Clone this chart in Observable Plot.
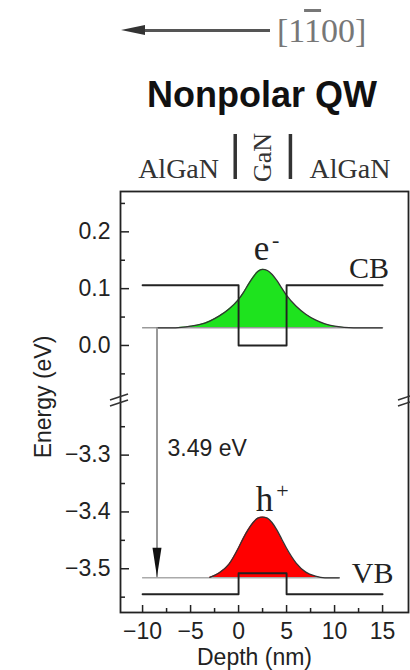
<!DOCTYPE html>
<html><head><meta charset="utf-8">
<script src="https://cdn.jsdelivr.net/npm/d3@7"></script>
<script src="https://cdn.jsdelivr.net/npm/@observablehq/plot@0.6"></script>
<style>
body{margin:0;background:#fff;width:410px;height:670px;overflow:hidden;}
#header{position:relative;width:410px;height:130px;}
#arrline{position:absolute;left:138px;top:28.5px;width:132px;height:3px;background:#555;}
#arrhead{position:absolute;left:121px;top:25px;width:0;height:0;border-right:24px solid #333;border-top:5px solid transparent;border-bottom:5px solid transparent;}
#dir{position:absolute;left:277px;top:13.5px;font:34px/34px 'Liberation Serif','Times New Roman',serif;color:#777;white-space:nowrap;}
#dir .ov{text-decoration:overline;text-decoration-thickness:3px;}
#title{position:absolute;left:262px;top:76.5px;transform:translateX(-50%);font:bold 36px/36px 'Liberation Sans',Arial,sans-serif;color:#111;white-space:nowrap;}
</style></head><body>
<div id="header">
  <div id="arrline"></div><div id="arrhead"></div>
  <div id="dir">[1<span class="ov">1</span>00]</div>
  <div id="title">Nonpolar QW</div>
</div>
<div id="chart"></div>
<script>
// ---- data ----
const depthTicks = [-10, -5, 0, 5, 10, 15];
const depthMinor = [-7.5, -2.5, 2.5, 7.5, 12.5];
const energyTicks = [0.2, 0.1, 0.0, -3.3, -3.4, -3.5];
const energyMinor = [0.25, 0.15, 0.05, -0.05, -3.25, -3.35, -3.45, -3.55];
const lowerRange = [-3.577, -3.204];
const upperRange = [-0.097, 0.271];

const layerNames = ["AlGaN", "GaN", "AlGaN"];
const layerCenters = [-6.25, 2.5, 11.6];
const layerBounds = [-0.35, 5.4];

// conduction band edge (AlGaN / GaN / AlGaN)
const cbX = [-10, 0, 0, 5, 5, 15];
const cbE = [0.106, 0.106, 0, 0, 0.106, 0.106];
// valence band edge
const vbX = [-10, 0, 0, 5, 5, 15];
const vbE = [-3.545, -3.545, -3.508, -3.508, -3.545, -3.545];

// confined levels
const elecLevel = 0.031;
const holeLevel = -3.516;
const elecLevelSpan = [-10, 15];
const holeLevelSpan = [-10, 10.5];

// electron probability density (offset to level)
const elecX = [-8.5, -7, -6, -5, -4, -3, -2, -1, 0, 0.5, 1, 1.5, 2, 2.5, 3, 3.5, 4, 4.5, 5, 6, 7, 8, 9, 10, 12, 15];
const elecE = [0.031, 0.031, 0.032, 0.034, 0.037, 0.043, 0.052, 0.064, 0.081, 0.093, 0.107, 0.120, 0.130, 0.134, 0.132, 0.125, 0.114, 0.101, 0.088, 0.069, 0.055, 0.045, 0.038, 0.034, 0.031, 0.031];
// hole probability density
const holeX = [-3, -2, -1, 0, 0.5, 1, 1.5, 2, 2.5, 3, 3.5, 4, 4.5, 5, 6, 7, 8, 9, 10.5];
const holeE = [-3.515, -3.507, -3.492, -3.463, -3.446, -3.431, -3.419, -3.411, -3.409, -3.411, -3.419, -3.432, -3.448, -3.464, -3.490, -3.506, -3.513, -3.516, -3.516];

const transitionX = -8.5;
const transitionLabel = "3.49 eV";

// ---- chart ----
const W = 410, H = 540, mL = 120, mR = 2, mT = 61, mB = 58;
const frameW = W - mL - mR, frameH = H - mT - mB;
const serif = "'Liberation Serif','Times New Roman',serif";
const sans = "'Liberation Sans',Arial,sans-serif";
const ink = "#222";

// broken axis: lower panel then upper panel stacked continuously
const lowerSpan = lowerRange[1] - lowerRange[0];
const upperSpan = upperRange[1] - upperRange[0];
const brokenAxis = E => E < (lowerRange[1] + upperRange[0]) / 2
  ? E - lowerRange[0]
  : lowerSpan + (E - upperRange[0]);

const zip = (xs, ys) => xs.map((x, i) => ({x, y: ys[i]}));
const cb = zip(cbX, cbE), vb = zip(vbX, vbE);
const elec = zip(elecX, elecE), hole = zip(holeX, holeE);
const fmtE = d => (d < 0 ? "\u2212" : "") + Math.abs(d).toFixed(1);
const fmtX = d => (d < 0 ? "\u2212" : "") + Math.abs(d);

const arrowHead = {draw(ctx) { ctx.moveTo(-4.5, -30); ctx.lineTo(4.5, -30); ctx.lineTo(0, -1); ctx.closePath(); }};

const breaks = (index, scales, values, dims) => {
  const g = d3.create("svg:g").attr("stroke", "#333").attr("stroke-width", 1.5).attr("fill", "none");
  const fh = dims.height - dims.marginTop - dims.marginBottom;
  const yb = dims.height - dims.marginBottom - fh * lowerSpan / (lowerSpan + upperSpan);
  for (const xb of [dims.marginLeft, dims.width - dims.marginRight]) {
    for (const off of [-3, 3]) {
      g.append("path").attr("d", `M${xb - 10},${yb + off + 3}L${xb + 8},${yb + off - 3}`);
    }
  }
  return g.node();
};

const plot = Plot.plot({
  width: W, height: H,
  marginLeft: mL, marginRight: mR, marginTop: mT, marginBottom: mB,
  style: {fontFamily: sans, fontSize: "22px", background: "#fff", color: "#111", overflow: "visible"},
  x: {domain: [-12.3, 17.7]},
  y: {transform: brokenAxis, domain: [0, lowerSpan + upperSpan]},
  marks: [
    Plot.areaY(elec, {x: "x", y1: elecLevel, y2: "y", fill: "#1ee31e", curve: "monotone-x"}),
    Plot.areaY(hole, {x: "x", y1: holeLevel, y2: "y", fill: "#ff0000", curve: "monotone-x"}),
    Plot.ruleY([elecLevel], {x1: elecLevelSpan[0], x2: elecLevelSpan[1], stroke: "#999", strokeWidth: 1.5}),
    Plot.ruleY([holeLevel], {x1: holeLevelSpan[0], x2: holeLevelSpan[1], stroke: "#aaa", strokeWidth: 1.5}),
    Plot.line(elec, {x: "x", y: "y", curve: "monotone-x", stroke: "#333", strokeWidth: 1.3}),
    Plot.line(hole, {x: "x", y: "y", curve: "monotone-x", stroke: "#333", strokeWidth: 1.3}),
    Plot.line(cb, {x: "x", y: "y", stroke: ink, strokeWidth: 1.9}),
    Plot.line(vb, {x: "x", y: "y", stroke: ink, strokeWidth: 1.9}),
    Plot.ruleX([transitionX], {y1: elecLevel, y2: holeLevel, stroke: "#999", strokeWidth: 2}),
    Plot.dot([{x: transitionX, y: holeLevel}], {x: "x", y: "y", symbol: arrowHead, fill: "#111", stroke: null}),
    Plot.text([transitionLabel], {x: -7.4, y: -3.288, textAnchor: "start", lineAnchor: "middle", fontSize: 23, fill: "#222"}),
    // carrier labels
    Plot.text(["e"], {x: 2.4, y: 0.151, lineAnchor: "bottom", fontFamily: serif, fontSize: 35, fill: "#222"}),
    Plot.text(["-"], {x: 2.4, y: 0.151, dx: 14, dy: -13, lineAnchor: "bottom", fontFamily: serif, fontSize: 22, fill: "#222"}),
    Plot.text(["h"], {x: 2.7, y: -3.398, lineAnchor: "bottom", fontFamily: serif, fontSize: 35, fill: "#222"}),
    Plot.text(["+"], {x: 2.7, y: -3.398, dx: 18, dy: -13, lineAnchor: "bottom", fontFamily: serif, fontSize: 22, fill: "#222"}),
    Plot.text(["CB"], {x: 11.5, y: 0.118, textAnchor: "start", lineAnchor: "bottom", fontFamily: serif, fontSize: 30, fill: "#222"}),
    Plot.text(["VB"], {x: 11.8, y: -3.525, textAnchor: "start", lineAnchor: "bottom", fontFamily: serif, fontSize: 30, fill: "#222"}),
    // layer header
    Plot.text(layerNames.filter((d, i) => i !== 1), {x: layerCenters.filter((d, i) => i !== 1), frameAnchor: "top", dy: -14, lineAnchor: "bottom", fontFamily: serif, fontSize: 28, fill: "#333"}),
    Plot.text([layerNames[1]], {x: layerCenters[1], frameAnchor: "top", dy: -34, rotate: -90, textAnchor: "middle", lineAnchor: "middle", fontFamily: serif, fontSize: 26, fill: "#333"}),
    Plot.ruleX(layerBounds, {insetTop: -57, insetBottom: frameH + 12, stroke: "#333", strokeWidth: 3.5}),
    // axes
    Plot.axisY(energyTicks, {anchor: "left", tickSize: 0, tickPadding: 10, label: null, tickFormat: fmtE, fontSize: 23, fill: "#222"}),
    Plot.axisX(depthTicks, {anchor: "bottom", tickSize: 0, tickPadding: 10, label: null, tickFormat: fmtX, fontSize: 23, fill: "#222"}),
    Plot.tickY(energyTicks, {y: d => d, insetRight: frameW - 9, stroke: ink, strokeWidth: 1.5}),
    Plot.tickY(energyMinor, {y: d => d, insetRight: frameW - 5, stroke: ink, strokeWidth: 1.5}),
    Plot.tickX(depthTicks, {x: d => d, insetTop: frameH - 7, stroke: ink, strokeWidth: 1.5}),
    Plot.tickX(depthMinor, {x: d => d, insetTop: frameH - 4, stroke: ink, strokeWidth: 1.5}),
    Plot.text(["Energy (eV)"], {frameAnchor: "left", dx: -77, dy: -5, rotate: -90, textAnchor: "middle", lineAnchor: "middle", fontSize: 23, fill: "#222"}),
    Plot.text(["Depth (nm)"], {frameAnchor: "bottom", dx: -10, dy: 45, textAnchor: "middle", lineAnchor: "middle", fontSize: 23, fill: "#222"}),
    Plot.frame({stroke: ink, strokeWidth: 1.8}),
    breaks
  ]
});
document.getElementById("chart").appendChild(plot);
</script>
</body></html>
